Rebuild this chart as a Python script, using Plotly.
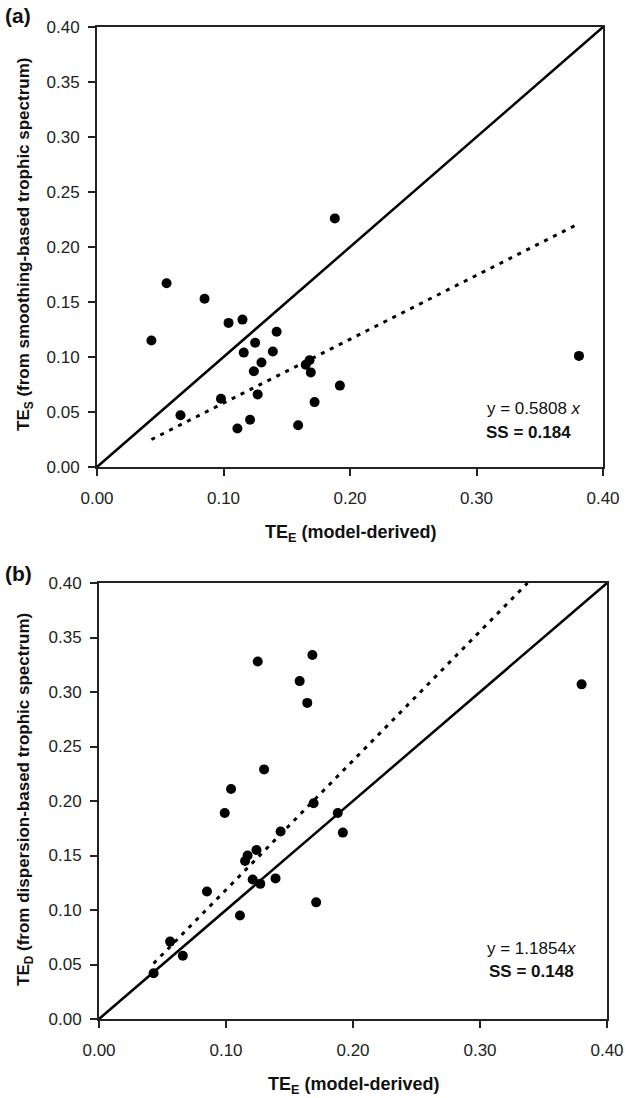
import plotly.graph_objects as go

# ---- data ----
tee_a = [0.188, 0.055, 0.085, 0.043, 0.104, 0.115, 0.142, 0.125, 0.116, 0.139, 0.130, 0.124,
         0.165, 0.168, 0.169, 0.192, 0.098, 0.127, 0.066, 0.172, 0.121, 0.111, 0.159, 0.381]
tes_a = [0.226, 0.167, 0.153, 0.115, 0.131, 0.134, 0.123, 0.113, 0.104, 0.105, 0.095, 0.087,
         0.093, 0.097, 0.086, 0.074, 0.062, 0.066, 0.047, 0.059, 0.043, 0.035, 0.038, 0.101]

tee_b = [0.125, 0.168, 0.158, 0.164, 0.130, 0.104, 0.099, 0.169, 0.188, 0.192, 0.143, 0.117,
         0.115, 0.124, 0.121, 0.127, 0.139, 0.085, 0.111, 0.171, 0.056, 0.066, 0.043, 0.380]
ted_b = [0.328, 0.334, 0.310, 0.290, 0.229, 0.211, 0.189, 0.198, 0.189, 0.171, 0.172, 0.150,
         0.145, 0.155, 0.128, 0.124, 0.129, 0.117, 0.095, 0.107, 0.071, 0.058, 0.042, 0.307]

slope_a = 0.5808
slope_b = 1.1854
fit_a_x = [0.043, 0.381]
fit_b_x = [0.043, 0.4 / slope_b]
identity = [0.0, 0.40]

x_ticks = [0.0, 0.1, 0.2, 0.3, 0.4]
x_ticklabels = ["0.00", "0.10", "0.20", "0.30", "0.40"]
y_ticks = [0.0, 0.05, 0.10, 0.15, 0.20, 0.25, 0.30, 0.35, 0.40]
y_ticklabels = ["0.00", "0.05", "0.10", "0.15", "0.20", "0.25", "0.30", "0.35", "0.40"]

W, H = 625, 1098
FONT = "Liberation Sans, Arial, sans-serif"

fig = go.Figure()

def add_panel(xs, ys, slope, fit_x, xa, ya):
    fig.add_trace(go.Scatter(x=identity, y=identity, mode="lines",
                             line=dict(color="black", width=2.5),
                             xaxis=xa, yaxis=ya, showlegend=False, hoverinfo="skip"))
    fig.add_trace(go.Scatter(x=fit_x, y=[slope * v for v in fit_x], mode="lines",
                             line=dict(color="black", width=3, dash="4px,6px"),
                             xaxis=xa, yaxis=ya, showlegend=False, hoverinfo="skip"))
    fig.add_trace(go.Scatter(x=xs, y=ys, mode="markers",
                             marker=dict(color="black", size=10),
                             xaxis=xa, yaxis=ya, showlegend=False))

add_panel(tee_a, tes_a, slope_a, fit_a_x, "x", "y")
add_panel(tee_b, ted_b, slope_b, fit_b_x, "x2", "y2")

def px_x(v):
    return v / W

def px_y(v):
    return 1 - v / H

axis_common = dict(showgrid=False, zeroline=False, showline=True, linecolor="#222",
                   linewidth=1.8, mirror=True, ticks="outside", ticklen=7, tickwidth=1.5,
                   tickcolor="#222", range=[0, 0.4], automargin=False,
                   tickfont=dict(family=FONT, size=17, color="#222"))

fig.update_layout(
    width=W, height=H,
    margin=dict(l=0, r=0, t=0, b=0, pad=0, autoexpand=False),
    paper_bgcolor="white", plot_bgcolor="white",
    xaxis=dict(domain=[px_x(97), px_x(603)], anchor="y", tickvals=x_ticks,
               ticktext=x_ticklabels, ticklabelstandoff=8, **axis_common),
    yaxis=dict(domain=[px_y(467), px_y(27)], anchor="x", tickvals=y_ticks,
               ticktext=y_ticklabels, ticklabelstandoff=5, **axis_common),
    xaxis2=dict(domain=[px_x(99), px_x(607)], anchor="y2", tickvals=x_ticks,
                ticktext=x_ticklabels, ticklabelstandoff=8, **axis_common),
    yaxis2=dict(domain=[px_y(1019), px_y(583)], anchor="x2", tickvals=y_ticks,
                ticktext=y_ticklabels, ticklabelstandoff=5, **axis_common),
)

def ann(text, x, y, size=16, xanchor="center", yanchor="middle", angle=0):
    fig.add_annotation(text=text, x=px_x(x), y=px_y(y), xref="paper", yref="paper",
                       showarrow=False, xanchor=xanchor, yanchor=yanchor, textangle=angle,
                       borderpad=0, font=dict(family=FONT, size=size, color="#111"))

# panel labels
ann("<b>(a)</b>", 4, 16, size=21, xanchor="left")
ann("<b>(b)</b>", 4, 573, size=21, xanchor="left")

# axis titles
ann("<b>TE<sub>E</sub> (model-derived)</b>", 350, 533, size=18)
ann("<b>TE<sub>E</sub> (model-derived)</b>", 353, 1085, size=18)
ann("<b>TE<sub>S</sub> (from smoothing-based trophic spectrum)</b>", 25, 245, size=17, angle=-90)
ann("<b>TE<sub>D</sub> (from dispersion-based trophic spectrum)</b>", 25, 800, size=17, angle=-90)

# equations
ann("y = 0.5808 <i>x</i>", 486, 409, size=17, xanchor="left")
ann("<b>SS = 0.184</b>", 485, 432, size=17, xanchor="left")
ann("y = 1.1854<i>x</i>", 486, 948, size=17, xanchor="left")
ann("<b>SS = 0.148</b>", 488, 971, size=17, xanchor="left")

fig.write_html("out.html")
